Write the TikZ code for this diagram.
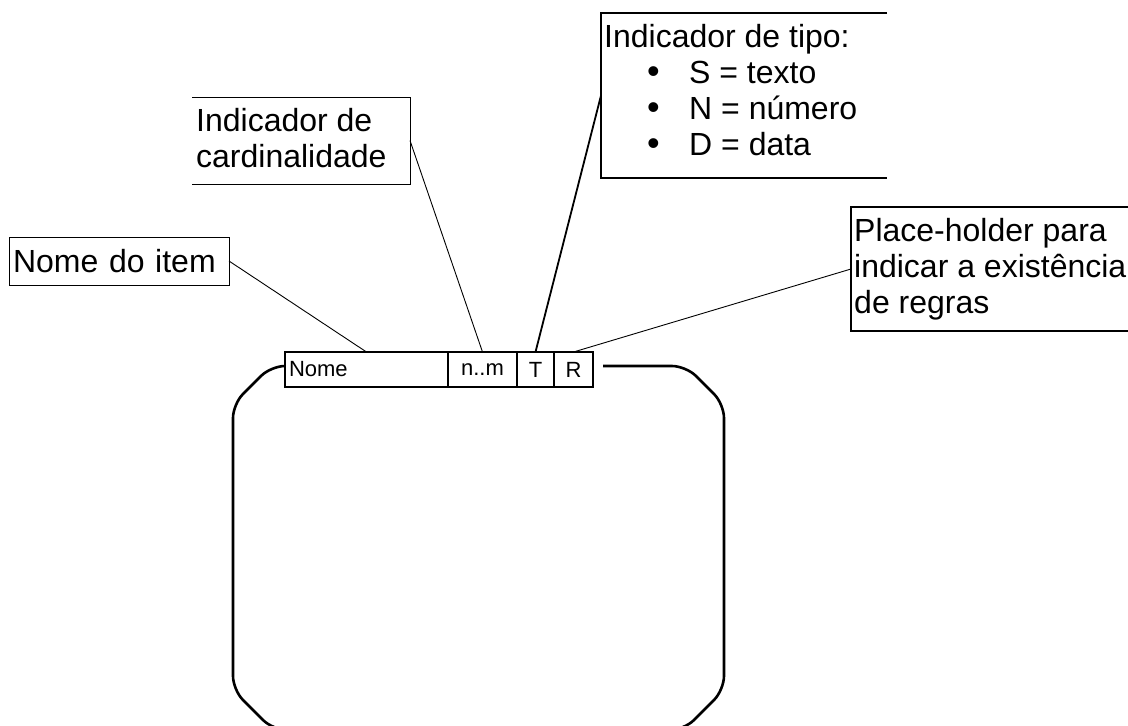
\documentclass[tikz,border=0pt]{standalone}
\usepackage{fontspec}
\setmainfont{Liberation Sans}
\usetikzlibrary{positioning}

\begin{document}
\begin{tikzpicture}[x=1pt,y=-1pt,
cellblock/.style={draw,rectangle,line width=2.6pt,minimum height=35pt,inner sep=0pt,outer sep=0pt,font=\fontsize{22}{24}\selectfont},
callbox/.style={rectangle,inner sep=0pt,outer sep=0pt},
calltext/.style={inner sep=0pt,align=left,anchor=north west,font=\fontsize{32}{36}\selectfont},
leader/.style={line width=0.9pt},
frame/.style={line width=2.6pt,rounded corners=14pt}]

\newcommand{\tipobullet}{\hspace*{43pt}\makebox[42pt][l]{{\fontsize{36}{36}\selectfont\textbullet}}}

\useasboundingbox (0,0) rectangle (1128,726);
\clip (0,0) rectangle (1128,726);

% header of the item
\node[cellblock,minimum width=163pt,text width=155pt,inner xsep=4pt,align=left] (nome) at (366.5,369.5) {Nome};
\node[cellblock,minimum width=69pt,right=0pt of nome] (nm) {n..m};
\node[cellblock,minimum width=37pt,right=0pt of nm] (tcell) {T};
\node[cellblock,minimum width=39pt,right=0pt of tcell] (rcell) {R};

% item frame
\draw[frame] (nome.west |- 0,366) -- (271,366) -- (233,404) -- (233,690) -- (273,730) -- (684,730)
  -- (724,690) -- (724,404) -- (686,366) -- (603,366);

% callouts
\node[callbox,draw,line width=1pt,minimum width=220pt,minimum height=48pt,text width=212pt,inner xsep=4pt,align=left,font=\fontsize{32}{36}\selectfont] (nomebox) at (119,261) {Nome do item};

\node[callbox,minimum width=218pt,minimum height=87pt] (cardbox) at (301,140.5) {};
\draw[line width=1pt] (cardbox.north west) -- (cardbox.north east) -- (cardbox.south east) -- (cardbox.south west);
\node[calltext,below right=11.5pt and 4pt of cardbox.north west] (cardtext) {Indicador de\\cardinalidade};

\node[callbox,minimum width=286pt,minimum height=165pt] (tipobox) at (744,95.5) {};
\draw[line width=1.4pt] (tipobox.north east) -- (tipobox.north west) -- (tipobox.south west) -- (tipobox.south east);
\node[calltext,below right=11pt and 3pt of tipobox.north west] (tipotext) {Indicador de tipo:\\
\tipobullet S = texto\\
\tipobullet N = número\\
\tipobullet D = data};

\node[callbox,minimum width=289pt,minimum height=124pt] (regrasbox) at (995.5,269) {};
\draw[line width=1.2pt] (regrasbox.north east) -- (regrasbox.north west) -- (regrasbox.south west) -- (regrasbox.south east);
\node[calltext,below right=11pt and 3pt of regrasbox.north west] (regrastext) {Place-holder para\\indicar a existência\\de regras};

% leaders
\draw[leader] (nomebox.east) -- (nome.north);
\draw[leader] (cardbox.east) -- (nm.north);
\draw[leader,line width=1.8pt] (tipobox.west) -- (tcell.north);
\draw[leader] (regrasbox.west) -- (rcell.north);

\end{tikzpicture}
\end{document}
